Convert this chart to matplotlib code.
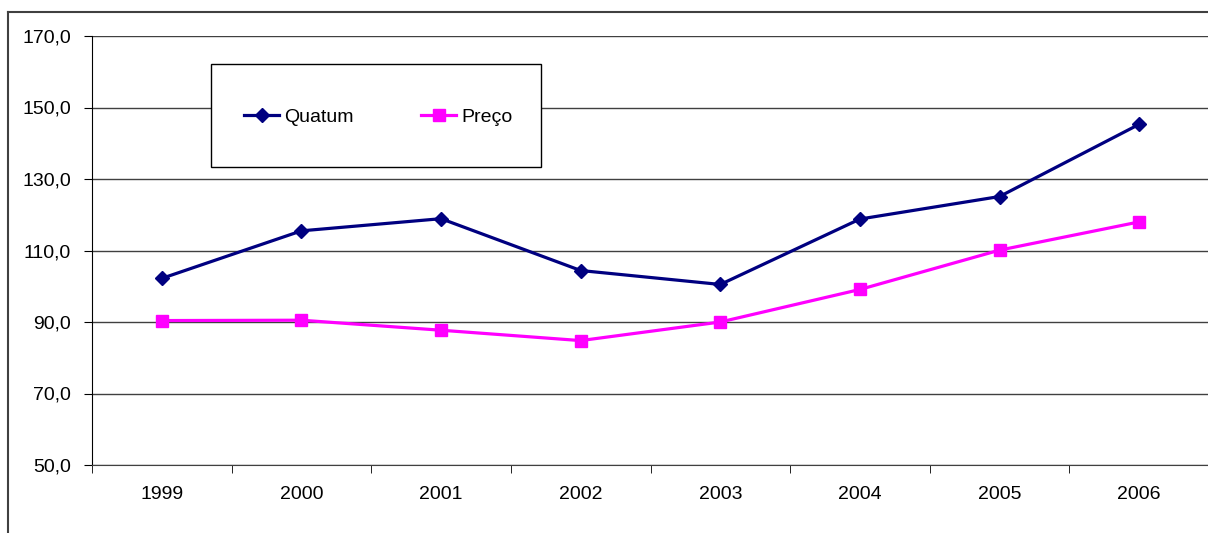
import matplotlib
matplotlib.use("Agg")
import matplotlib.pyplot as plt
from matplotlib.patches import Rectangle
from matplotlib.lines import Line2D

plt.rcParams['font.family'] = ['Liberation Sans', 'DejaVu Sans']

anos = ["1999", "2000", "2001", "2002", "2003", "2004", "2005", "2006"]
quatum = [102.2, 115.5, 118.9, 104.4, 100.5, 118.8, 125.1, 145.3]
preco = [90.4, 90.5, 87.7, 84.8, 90.0, 99.1, 110.1, 118.0]
y_ticks = [50, 70, 90, 110, 130, 150, 170]

fig = plt.figure(figsize=(12.08, 5.33), dpi=100)
W, H = 1208, 533
fs = 14

# moldura externa (so esquerda e topo aparecem)
fig.add_artist(Line2D([8 / W, 8 / W], [0, 1 - 12 / H], color="#404040", lw=1.5))
fig.add_artist(Line2D([8 / W, 1], [1 - 12 / H, 1 - 12 / H], color="#404040", lw=1.5))

ax = fig.add_axes([92 / W, 1 - 465 / H, (1209 - 92) / W, (465 - 36) / H])
x = list(range(len(anos)))

ax.plot(x, quatum, color="#000080", lw=2.3, marker="D", markersize=7.5,
        label="Quatum", zorder=3)
ax.plot(x, preco, color="#FF00FF", lw=2.3, marker="s", markersize=9,
        label="Preço", zorder=3)

ax.set_xlim(-0.5, len(anos) - 0.5)
ax.set_ylim(50, 170)
ax.set_yticks(y_ticks)
ax.set_yticklabels([f"{v:.1f}".replace(".", ",") for v in y_ticks])
ax.set_xticks(x)
ax.set_xticklabels(anos)
ax.set_xticks([i - 0.5 for i in range(len(anos) + 1)], minor=True)

ax.tick_params(axis="x", which="major", length=0, pad=15, labelsize=fs)
ax.tick_params(axis="x", which="minor", length=6, direction="out", color="black")
ax.tick_params(axis="y", length=6, direction="out", pad=9, labelsize=fs)

ax.grid(axis="y", color="#404040", lw=1)
ax.set_axisbelow(True)
for s in ["top", "right"]:
    ax.spines[s].set_visible(False)
ax.spines["left"].set_color("black")
ax.spines["bottom"].set_color("#404040")

# caixa da legenda
fig.add_artist(Rectangle((211 / W, 1 - 167 / H), (541 - 211) / W, (167 - 64) / H,
                         facecolor="white", edgecolor="black", lw=1, zorder=5))
leg = fig.legend(loc="center left", bbox_to_anchor=(244 / W, 1 - 117 / H),
                 ncol=2, frameon=False, fontsize=fs, handlelength=1.8,
                 handletextpad=0.25, columnspacing=3.5, borderpad=0,
                 borderaxespad=0)
leg.set_zorder(6)

fig.savefig("out.png", dpi=100)
